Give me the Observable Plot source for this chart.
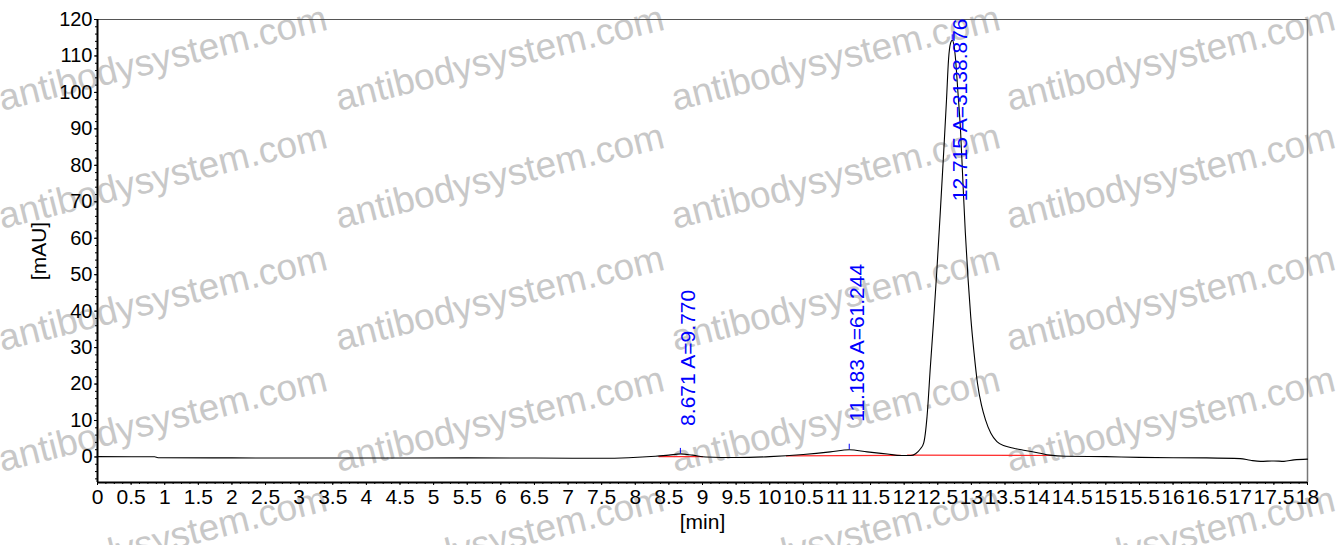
<!DOCTYPE html>
<html>
<head>
<meta charset="utf-8">
<script src="https://cdn.jsdelivr.net/npm/d3@7"></script>
<script src="https://cdn.jsdelivr.net/npm/@observablehq/plot@0.6"></script>
<style>
  html, body { margin: 0; padding: 0; background: #fff; }
  #wrap { position: relative; width: 1338px; height: 545px; overflow: hidden; font-family: "Liberation Sans", Arial, sans-serif; }
  #wm, #chart { position: absolute; left: 0; top: 0; }
</style>
</head>
<body>
<div id="wrap">
  <svg id="wm" width="1338" height="545"></svg>
  <div id="chart"></div>
</div>
<script>
// ---- data ----
const time = [0, 0.85, 0.9, 2, 3.5, 5.5, 6.5, 7.5, 7.9, 8.3, 8.5, 8.671, 8.85, 9.05, 9.5, 10.0, 10.5, 10.9, 11.183, 11.45, 11.75, 11.95, 12.1, 12.17, 12.24, 12.29, 12.34, 12.39, 12.44, 12.49, 12.54, 12.59, 12.63, 12.66, 12.69, 12.715, 12.74, 12.76, 12.8, 12.84, 12.875, 12.91, 12.95, 12.99, 13.04, 13.09, 13.15, 13.21, 13.29, 13.38, 13.5, 13.63, 13.8, 14.0, 14.17, 14.4, 15, 15.5, 16, 16.5, 17.0, 17.15, 17.3, 17.5, 17.65, 17.8, 18];
const signal = [0.1, 0.05, -0.2, -0.25, -0.3, -0.25, -0.3, -0.35, -0.2, 0.2, 0.5, 0.85, 0.5, 0.0, -0.15, 0.1, 0.7, 1.4, 2.0, 1.4, 0.8, 0.4, 0.4, 0.9, 2.2, 3.8, 11, 24.8, 38, 52.3, 68, 84.3, 98, 109, 113.5, 114.3, 113, 110, 100, 89, 75, 61.5, 49, 38.5, 28.5, 20.3, 14.2, 10.2, 6.5, 4.2, 3.0, 2.4, 1.8, 1.1, 0.5, 0.2, 0.1, -0.1, -0.2, -0.25, -0.45, -0.9, -1.2, -1.1, -1.2, -0.8, -0.6];

const peakTimes = [8.671, 11.183, 12.715];
const peakAreas = [9.770, 61.244, 3138.876];
const peakHeights = [0.85, 2.0, 114.3];

const baseStartT = [8.35, 10.25, 12.05];
const baseStartV = [0.1, 0.3, 0.5];
const baseEndT = [9.0, 11.95, 14.2];
const baseEndV = [0.1, 0.45, 0.4];

const xTicks = [0, 0.5, 1, 1.5, 2, 2.5, 3, 3.5, 4, 4.5, 5, 5.5, 6, 6.5, 7, 7.5, 8, 8.5, 9, 9.5, 10, 10.5, 11, 11.5, 12, 12.5, 13, 13.5, 14, 14.5, 15, 15.5, 16, 16.5, 17, 17.5, 18];
const yTicks = [0, 10, 20, 30, 40, 50, 60, 70, 80, 90, 100, 110, 120];
const xLabel = "[min]";
const yLabel = "[mAU]";
const watermark = "antibodysystem.com";

// ---- derived tables ----
const trace = time.map((t, i) => ({t, v: signal[i]}));
const peaks = peakTimes.map((t, i) => ({t, h: peakHeights[i], label: `${t.toFixed(3)} A=${peakAreas[i].toFixed(3)}`}));
const baselines = [];
baseStartT.forEach((t0, i) => {
  baselines.push({seg: i, t: t0, v: baseStartV[i]});
  baselines.push({seg: i, t: baseEndT[i], v: baseEndV[i]});
});
const xMinor = d3.range(0, 18.001, 0.125);
const yMinor = d3.range(-6, 120.001, 2);

const yMax = 120, yMin = -7;

const chart = Plot.plot({
  width: 1338,
  height: 545,
  marginLeft: 97,
  marginRight: 31,
  marginTop: 19,
  marginBottom: 63,
  style: {fontFamily: "'Liberation Sans', Arial, sans-serif", fontSize: "20px", background: "transparent", overflow: "visible", color: "#000"},
  x: {domain: [0, 18]},
  y: {domain: [yMin, yMax]},
  marks: [
    Plot.axisY(yMinor, {tickSize: 2, tickFormat: () => "", label: null}),
    Plot.axisY(yTicks, {tickSize: 3, tickPadding: 2, fontSize: 20, label: null}),
    Plot.axisX(xMinor, {tickSize: 2, tickFormat: () => "", label: null}),
    Plot.axisX(xTicks, {tickSize: 3, tickPadding: 4, fontSize: 21, tickFormat: d => String(d), label: null}),
    Plot.ruleY([yMax], {stroke: "#555", strokeWidth: 1}),
    Plot.ruleX([18], {stroke: "#777", strokeWidth: 1.5}),
    Plot.line(baselines, {x: "t", y: "v", z: "seg", stroke: "#ff2a2a", strokeWidth: 1.2}),
    Plot.line(trace, {x: "t", y: "v", curve: "monotone-x", stroke: "#000", strokeWidth: 1.1}),
    Plot.ruleX(peaks, {x: "t", y1: "h", y2: d => d.h + 1.5, stroke: "#0000ff", strokeWidth: 1}),
    Plot.text(peaks.filter(d => d.h < 60), {x: "t", y: "h", text: "label", rotate: -90, textAnchor: "start", lineAnchor: "top", dy: -28, fill: "#0000ff", fontSize: 21}),
    Plot.text(peaks.filter(d => d.h >= 60), {x: "t", y: () => yMax, text: "label", rotate: -90, textAnchor: "end", lineAnchor: "top", dy: -1, fill: "#0000ff", fontSize: 21}),
    Plot.ruleX([0], {stroke: "#000", strokeWidth: 2}),
    Plot.ruleY([yMin], {stroke: "#000", strokeWidth: 2}),
    Plot.text([yLabel], {frameAnchor: "left", rotate: -90, textAnchor: "middle", lineAnchor: "middle", dx: -58, fontSize: 21, fill: "#000"}),
    Plot.text([xLabel], {frameAnchor: "bottom", textAnchor: "middle", lineAnchor: "middle", dy: 40, fontSize: 21, fill: "#000"})
  ]
});
document.getElementById("chart").appendChild(chart);

// ---- watermark ----
const wm = d3.select("#wm");
const colX = [2, 339, 675, 1010];
const rowY = [111, 229, 351, 472, 592];
colX.forEach(x => rowY.forEach(y => {
  wm.append("text")
    .attr("transform", `translate(${x},${y}) rotate(-14)`)
    .attr("font-family", "'Liberation Sans', Arial, sans-serif")
    .attr("font-size", 37)
    .attr("fill", "#c8c8c8")
    .text(watermark);
}));
</script>
</body>
</html>
